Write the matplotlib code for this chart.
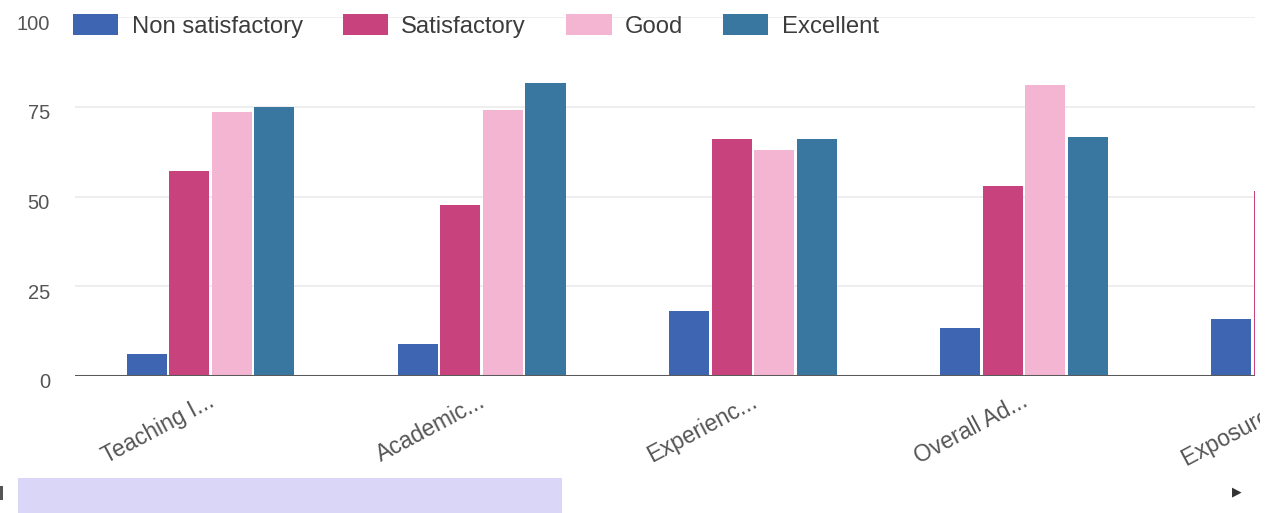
import matplotlib

matplotlib.use("Agg")
import matplotlib.pyplot as plt
import matplotlib.transforms as mtransforms
import numpy as np

# values (Exposure is cut off at the right edge)
categories = ["Teaching I...", "Academic...", "Experienc...", "Overall Ad...", "Exposure t..."]
non_satisfactory = [6, 9, 18, 13.5, 16]
satisfactory = [57, 47.5, 66, 53, 51.5]
good = [73.5, 74, 63, 81, np.nan]
excellent = [75, 81.5, 66, 66.5, np.nan]

series = [
    ("Non satisfactory", non_satisfactory, "#3e65b2"),
    ("Satisfactory", satisfactory, "#c8437d"),
    ("Good", good, "#f4b5d3"),
    ("Excellent", excellent, "#3a77a0"),
]

W, H, DPI = 1274, 513, 100
plt.rcParams["font.family"] = ["Liberation Sans", "DejaVu Sans"]

fig = plt.figure(figsize=(W / DPI, H / DPI), dpi=DPI, facecolor="white")
ax = fig.add_axes([75 / W, 1 - 376 / H, 1180 / W, 359 / H])

x = np.arange(len(categories))
step, bw = 0.157, 0.148
for i, (name, vals, col) in enumerate(series):
    ax.bar(x + (i - 1.5) * step, vals, width=bw, color=col, label=name, zorder=2)

ax.set_xlim(-0.5, 3.852)
ax.set_ylim(0, 100)
ax.set_yticks([0, 25, 50, 75, 100])
ax.grid(axis="y", color="#ebebeb", lw=1.2, zorder=0)
ax.axhline(0, color="#5a5a5a", lw=2.2, zorder=3)
for s in ax.spines.values():
    s.set_visible(False)
ax.tick_params(axis="y", length=0, pad=18, labelsize=14.5, labelcolor="#555555")
ax.tick_params(axis="x", length=0)
ax.set_xticks([])
shift = mtransforms.ScaledTranslation(0, -5 / DPI, fig.dpi_scale_trans)
for lbl in ax.get_yticklabels():
    lbl.set_transform(lbl.get_transform() + shift)

# category labels, rotated; the last one is clipped like the screenshot
clip = mtransforms.TransformedBbox(mtransforms.Bbox([[0, 0], [1260 / W, 1]]), fig.transFigure)
lab_shift = mtransforms.ScaledTranslation(-3 / DPI, -14 / DPI, fig.dpi_scale_trans)
for xi, cat in zip(x, categories):
    t = ax.text(xi, 0, cat, transform=ax.get_xaxis_transform() + lab_shift,
                rotation=28, rotation_mode="anchor", ha="right", va="top",
                fontsize=16.5, color="#555555", clip_on=False)
    t.set_clip_box(clip)
    t.set_clip_on(True)

fig.legend(loc="center left", bbox_to_anchor=(73 / W, 1 - 26 / H), ncol=4, frameon=False,
           borderpad=0, borderaxespad=0, fontsize=17.2, labelcolor="#3c3c3c",
           handlelength=1.9, handleheight=0.95, handletextpad=0.55, columnspacing=1.68)

# bits of the surrounding page UI
fig.patches.append(plt.Rectangle((18 / W, 0), 544 / W, 35 / H, transform=fig.transFigure,
                                 facecolor="#d9d6f7", edgecolor="none"))
fig.patches.append(plt.Rectangle((0, 1 - 500 / H), 3 / W, 14 / H, transform=fig.transFigure,
                                 facecolor="#555555", edgecolor="none"))
fig.text(1237 / W, 1 - 492 / H, "\u25b6", fontsize=9, color="#333333", ha="center", va="center",
         family="DejaVu Sans")

fig.savefig("out.png", dpi=DPI, facecolor="white")
